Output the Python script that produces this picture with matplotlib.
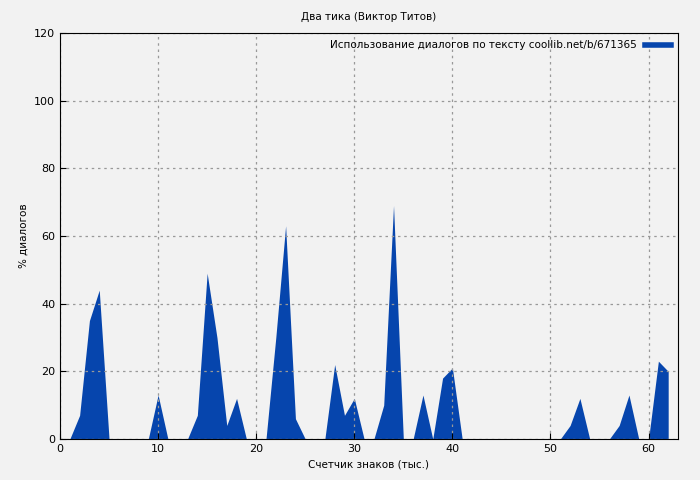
import matplotlib
matplotlib.use("Agg")
import matplotlib.pyplot as plt
import numpy as np

x_k = [0,1,2,3,4,5,9,10,11,13,14,15,16,17,18,19,21,22,23,24,25,27,28,29,30,31,32,33,34,35,36,37,38,39,40,41,51,52,53,54,56,57,58,59,60,61,62]
pct = [0,0,7,35,44,0,0,13,0,0,7,49,30,4,12,0,0,30,63,6,0,0,22,7,12,0,0,10,69,0,0,13,0,18,21,0,0,4,12,0,0,4,13,0,0,23,20]

fig = plt.figure(figsize=(7,4.8), dpi=100, facecolor="#f2f2f2")
ax = fig.add_axes([60/700, 41/480, 618/700, 406/480])
ax.set_facecolor("#f2f2f2")
c = "#0645ad"
ax.fill_between(x_k, pct, 0, color=c, linewidth=0)
ax.set_xlim(0, 63)
ax.set_ylim(0, 120)
ax.set_xticks([0,10,20,30,40,50,60])
ax.set_yticks([0,20,40,60,80,100,120])
ax.grid(True, color="#999999", linestyle=(0,(2,3)), linewidth=0.9)
ax.tick_params(labelsize=8, direction="in", length=4)
ax.set_xlabel("Счетчик знаков (тыс.)", fontsize=7.5)
ax.set_ylabel("% диалогов", fontsize=7.5)
fig.text(0.527, 0.965, "Два тика (Виктор Титов)", ha="center", va="center", fontsize=7.5)
h = plt.Line2D([], [], color=c, linewidth=4)
leg = ax.legend([h], ["Использование диалогов по тексту coollib.net/b/671365"], loc="upper right",
                frameon=False, fontsize=7.5, markerfirst=False, handlelength=2.5, borderaxespad=0.3)
fig.savefig("out.png", dpi=100, facecolor=fig.get_facecolor())
